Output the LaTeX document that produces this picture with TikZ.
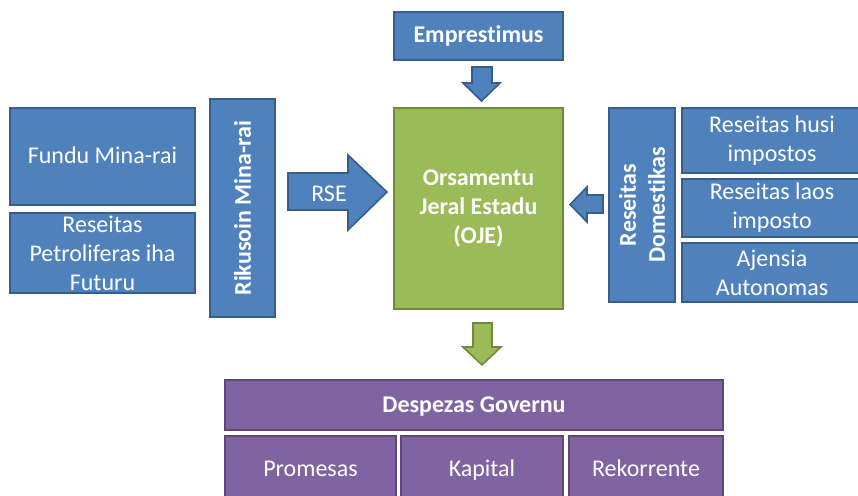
\documentclass[tikz,border=0pt]{standalone}
\usepackage{fontspec}
\setmainfont{Carlito}[Ligatures=NoCommon]
\definecolor{bfill}{HTML}{4F81BD}
\definecolor{bline}{HTML}{385D8A}
\definecolor{gfill}{HTML}{9BBB59}
\definecolor{gline}{HTML}{71893F}
\definecolor{pfill}{HTML}{8064A2}
\definecolor{pline}{HTML}{5C4776}
\tikzset{
  base/.style={anchor=north west, inner sep=0pt, outer sep=0pt, line width=1.6pt, text=white, align=center, font=\fontsize{24}{29}\selectfont},
  bluebox/.style={base, fill=bfill, draw=bline},
  greenbox/.style={base, fill=gfill, draw=gline},
  purplebox/.style={base, fill=pfill, draw=pline},
  oneline/.style={text height=18pt, text depth=4pt},
  barrow/.style={fill=bfill, draw=bline, line width=1.6pt, line join=miter},
  garrow/.style={fill=gfill, draw=gline, line width=1.6pt, line join=miter},
}
\begin{document}
\begin{tikzpicture}[x=1pt,y=-1pt]
\useasboundingbox (0,0) rectangle (858,495);
% top
\node[bluebox, oneline, minimum width=169pt, minimum height=48pt, font=\fontsize{24}{29}\selectfont\bfseries] (emp) at (394,12) {Emprestimus};
\node[greenbox, minimum width=169pt, minimum height=201pt, font=\fontsize{24}{29}\selectfont\bfseries] (oje) at (394,108) {Orsamentu\\Jeral Estadu\\(OJE)};
% left
\node[bluebox, oneline, minimum width=185pt, minimum height=97pt] (fundu) at (10,108) {Fundu Mina-rai};
\node[bluebox, minimum width=185pt, minimum height=80pt] (petro) at (10,213) {Reseitas\\Petroliferas iha\\Futuru};
\node[bluebox, minimum width=65pt, minimum height=218pt] (riku) at (210,99) {};
\node[rotate=90, text=white, font=\fontsize{24}{29}\selectfont\bfseries] at (riku.center) {Rikusoin Mina-rai};
% right
\node[bluebox, minimum width=66pt, minimum height=194pt] (dom) at (609,108) {};
\node[rotate=90, text=white, align=center, font=\fontsize{24}{29}\selectfont\bfseries] at (dom.center) {Reseitas\\Domestikas};
\node[bluebox, minimum width=180pt, minimum height=65pt] (husi) at (682,108) {Reseitas husi\\impostos};
\node[bluebox, minimum width=180pt, minimum height=58pt] (laos) at (682,179) {Reseitas laos\\imposto};
\node[bluebox, minimum width=180pt, minimum height=59pt] (ajen) at (682,243) {Ajensia\\Autonomas};
% bottom
\node[purplebox, oneline, minimum width=498pt, minimum height=50pt, font=\fontsize{24}{29}\selectfont\bfseries] (desp) at (225,380) {Despezas Governu};
\node[purplebox, oneline, minimum width=171pt, minimum height=66pt] (prom) at (225,436) {Promesas};
\node[purplebox, oneline, minimum width=162pt, minimum height=66pt] (kap) at (401,436) {Kapital};
\node[purplebox, oneline, minimum width=154pt, minimum height=66pt] (rek) at (569,436) {Rekorrente};
% arrows
\draw[barrow] (472,67) -- (492,67) -- (492,83) -- (500,83) -- (481.5,101) -- (463,83) -- (472,83) -- cycle;
\draw[barrow] (288,173) -- (348,173) -- (348,155) -- (387,192) -- (348,230) -- (348,210) -- (288,210) -- cycle;
\node[text=white, oneline, font=\fontsize{24}{29}\selectfont] (rse) at (329,194) {RSE};
\draw[barrow] (603,195) -- (587,195) -- (587,187) -- (570,204.5) -- (587,222) -- (587,213) -- (603,213) -- cycle;
\draw[garrow] (473,323) -- (492,323) -- (492,347) -- (501,347) -- (482,365) -- (463,347) -- (473,347) -- cycle;
\end{tikzpicture}
\end{document}
